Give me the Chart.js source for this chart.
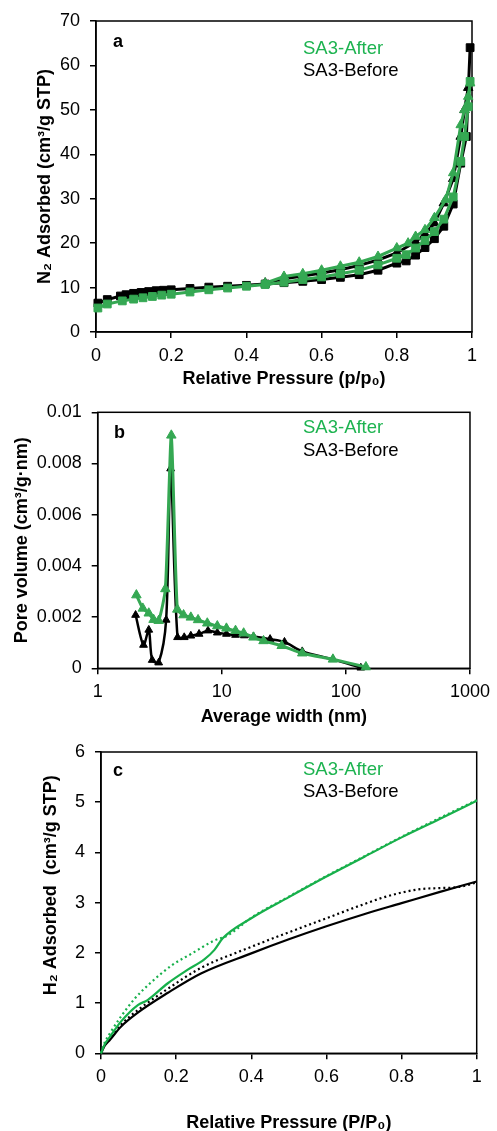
<!DOCTYPE html>
<html>
<head>
<meta charset="utf-8">
<script src="https://cdn.jsdelivr.net/npm/chart.js@4.4.1/dist/chart.umd.min.js"></script>
<style>
  html, body { margin: 0; padding: 0; background: #fff; overflow: hidden; }
  canvas { position: absolute; left: 0; }
  #grafA { top: 0; }
  #grafB { top: 390px; }
  #grafC { top: 728px; }
</style>
</head>
<body>
<canvas id="grafA" width="497" height="390"></canvas>
<canvas id="grafB" width="497" height="338"></canvas>
<canvas id="grafC" width="497" height="406"></canvas>
<script>
// =======================================================================
// DADOS
// =======================================================================
const nomesSeries = ["SA3-After", "SA3-Before"];

// (a) isoterma N2
const pAfterAds = [0.005, 0.03, 0.07, 0.1, 0.125, 0.15, 0.175, 0.2, 0.25, 0.3, 0.35, 0.4, 0.45, 0.5, 0.55, 0.6, 0.65, 0.7, 0.75, 0.8, 0.825, 0.85, 0.875, 0.9, 0.925, 0.95, 0.97, 0.98, 0.99, 0.995];
const n2AfterAds = [5.4, 6.3, 7.0, 7.4, 7.7, 8.0, 8.3, 8.5, 9.0, 9.5, 9.9, 10.3, 10.7, 11.2, 11.8, 12.4, 13.1, 13.9, 15.1, 16.6, 17.4, 18.9, 20.6, 22.6, 25.4, 30.4, 38.4, 44.0, 50.7, 56.4];
const pAfterDes = [0.995, 0.99, 0.98, 0.97, 0.95, 0.93, 0.9, 0.875, 0.85, 0.83, 0.8, 0.75, 0.7, 0.65, 0.6, 0.55, 0.5, 0.45];
const n2AfterDes = [56, 53, 50, 46.6, 35.8, 29.8, 25.7, 23, 21.5, 20, 18.9, 17, 15.7, 14.8, 13.9, 13.1, 12.5, 11.0];
const pBeforeAds = [0.005, 0.03, 0.065, 0.08, 0.1, 0.12, 0.14, 0.16, 0.18, 0.2, 0.25, 0.3, 0.35, 0.4, 0.45, 0.5, 0.55, 0.6, 0.65, 0.7, 0.75, 0.8, 0.825, 0.85, 0.875, 0.9, 0.925, 0.95, 0.97, 0.985, 0.995];
const n2BeforeAds = [6.5, 7.3, 8.1, 8.4, 8.7, 8.9, 9.1, 9.3, 9.4, 9.5, 9.8, 10.1, 10.3, 10.5, 10.8, 11.1, 11.4, 11.8, 12.3, 12.9, 13.9, 15.5, 16.0, 17.3, 19.0, 21.0, 23.8, 28.8, 38.0, 44.0, 64.0];
const pBeforeDes = [0.99, 0.98, 0.97, 0.95, 0.925, 0.9, 0.875, 0.85, 0.8, 0.75, 0.7, 0.65, 0.6, 0.55, 0.5, 0.45];
const n2BeforeDes = [55, 50, 44, 34.5, 29, 24.5, 22, 20.3, 17.8, 16.2, 15.0, 14.0, 13.3, 12.6, 12.0, 11.0];

// (b) distribuição de poros
const larguraAfter = [2.05, 2.31, 2.58, 2.82, 3.1, 3.51, 3.92, 4.38, 4.92, 5.63, 6.44, 7.64, 9.2, 10.9, 12.9, 15.0, 18.0, 21.7, 30.4, 44.5, 78.6, 145];
const volumeAfter = [0.00286, 0.00234, 0.00215, 0.0019, 0.00186, 0.0031, 0.0091, 0.0023, 0.00208, 0.00199, 0.00189, 0.00176, 0.00165, 0.00156, 0.00147, 0.00137, 0.00121, 0.00107, 0.00088, 0.00059, 0.00035, 0.00005];
const larguraBefore = [2.02, 2.34, 2.58, 2.75, 3.1, 3.56, 3.87, 4.4, 4.98, 5.63, 6.56, 7.74, 9.2, 10.9, 12.9, 15.2, 18, 24.5, 32, 44.5, 78.6, 132];
const volumeBefore = [0.00208, 0.00091, 0.0015, 0.00032, 0.00022, 0.00189, 0.0078, 0.00121, 0.00121, 0.00127, 0.00134, 0.00147, 0.00139, 0.00134, 0.0013, 0.00128, 0.00124, 0.00114, 0.00103, 0.00066, 0.00035, 0.00002];
const ticksLargura = [1, 10, 100, 1000];

// (c) isoterma H2
const pH2AfterAds = [0, 0.01, 0.024, 0.053, 0.098, 0.124, 0.177, 0.23, 0.275, 0.302, 0.324, 0.4, 0.5, 0.6, 0.7, 0.8, 0.9, 1.0];
const h2AfterAds = [0, 0.18, 0.33, 0.63, 0.96, 1.06, 1.39, 1.66, 1.87, 2.06, 2.29, 2.69, 3.11, 3.52, 3.91, 4.3, 4.66, 5.03];
const pH2AfterDes = [0, 0.01, 0.024, 0.053, 0.09, 0.13, 0.19, 0.24, 0.3, 0.34, 0.4, 0.5, 0.6, 0.7, 0.8, 0.9, 1.0];
const h2AfterDes = [0, 0.22, 0.4, 0.73, 1.09, 1.39, 1.76, 1.98, 2.24, 2.36, 2.7, 3.12, 3.53, 3.92, 4.31, 4.68, 5.04];
const pH2BeforeAds = [0, 0.01, 0.024, 0.053, 0.098, 0.177, 0.266, 0.4, 0.5, 0.6, 0.7, 0.8, 0.9, 1.0];
const h2BeforeAds = [0, 0.15, 0.27, 0.53, 0.81, 1.2, 1.59, 1.99, 2.27, 2.53, 2.77, 2.99, 3.21, 3.42];
const pH2BeforeDes = [0, 0.01, 0.024, 0.053, 0.098, 0.177, 0.266, 0.4, 0.5, 0.6, 0.7, 0.75, 0.8, 0.85, 0.9, 0.95, 1.0];
const h2BeforeDes = [0, 0.17, 0.3, 0.57, 0.86, 1.28, 1.7, 2.12, 2.41, 2.69, 2.97, 3.1, 3.2, 3.27, 3.29, 3.31, 3.4];

// =======================================================================
// ESTILO
// =======================================================================
const FONTE = "'Liberation Sans', Arial, sans-serif";
const VERDE = "#35a853";
const VERDE_TEXTO = "#1db350";
const PRETO = "#000";

Chart.defaults.font.family = FONTE;
Chart.defaults.color = "#000";

const pares = (xs, ys) => xs.map((x, i) => ({ x, y: ys[i] }));
const rotulo = (v) => String(+Number(v).toFixed(4));

// moldura + letra do painel + legenda em texto
const painel = {
  id: "painel",
  beforeDatasetsDraw(chart) {
    const { ctx, chartArea: a } = chart;
    ctx.save();
    ctx.strokeStyle = "#000";
    ctx.lineWidth = 1.5;
    ctx.strokeRect(a.left, a.top, a.right - a.left, a.bottom - a.top);
    ctx.restore();
  },
  afterDraw(chart, args, o) {
    const ctx = chart.ctx;
    ctx.save();
    ctx.textBaseline = "middle";
    ctx.textAlign = "left";
    ctx.font = "bold 18px " + FONTE;
    ctx.fillStyle = "#000";
    ctx.fillText(o.letra, o.letraX, o.letraY);
    ctx.font = "18.5px " + FONTE;
    ctx.fillStyle = VERDE_TEXTO;
    ctx.fillText(nomesSeries[0], o.legX, o.legY[0]);
    ctx.fillStyle = PRETO;
    ctx.fillText(nomesSeries[1], o.legX, o.legY[1]);
    ctx.restore();
  },
};

function eixo(o) {
  const e = {
    type: o.type || "linear",
    min: o.min,
    max: o.max,
    border: { color: "#000", width: 1.5 },
    grid: { drawOnChartArea: false, drawTicks: true, tickLength: 6, color: "#000", lineWidth: 1.5 },
    ticks: { font: { size: 18 }, color: "#000", padding: o.tickPad, callback: o.callback || rotulo },
    title: {
      display: true,
      text: o.titulo,
      font: { size: 18, weight: "bold" },
      color: "#000",
      padding: o.tituloPad,
    },
    afterFit: o.afterFit,
  };
  if (o.passo) e.ticks.stepSize = o.passo;
  if (o.afterBuildTicks) e.afterBuildTicks = o.afterBuildTicks;
  return e;
}

function serie(dados, cor, estilo, extra) {
  return Object.assign(
    {
      data: dados,
      borderColor: cor,
      backgroundColor: cor,
      pointBackgroundColor: cor,
      pointBorderColor: cor,
      borderWidth: 3,
      pointStyle: estilo,
      pointRadius: estilo ? 5.5 : 0,
      pointBorderWidth: 1,
      tension: 0,
      clip: false,
      fill: false,
    },
    extra || {}
  );
}

const base = {
  responsive: false,
  animation: false,
  events: [],
  plugins: { legend: { display: false }, tooltip: { enabled: false } },
};

// =======================================================================
// (a)
// =======================================================================
new Chart(document.getElementById("grafA"), {
  type: "line",
  data: {
    datasets: [
      serie(pares(pAfterDes, n2AfterDes), VERDE, "triangle"),
      serie(pares(pAfterAds, n2AfterAds), VERDE, "rect"),
      serie(pares(pBeforeDes, n2BeforeDes), PRETO, "triangle"),
      serie(pares(pBeforeAds, n2BeforeAds), PRETO, "rect"),
    ],
  },
  options: Object.assign({}, base, {
    layout: { padding: { top: 21, right: 25, left: 0, bottom: 0 } },
    plugins: Object.assign({}, base.plugins, {
      painel: { letra: "a", letraX: 113, letraY: 42, legX: 303, legY: [49, 71] },
    }),
    scales: {
      x: eixo({
        min: 0, max: 1, passo: 0.2, tickPad: 7,
        titulo: "Relative Pressure (p/p\u2080)",
        tituloPad: { top: 0, bottom: 0 },
        afterFit: (s) => { s.height = 58; },
      }),
      y: eixo({
        min: 0, max: 70, passo: 10, tickPad: 10,
        titulo: "N\u2082 Adsorbed (cm\u00b3/g STP)",
        tituloPad: { top: 34, bottom: 0 },
        afterFit: (s) => { s.width = 96; },
      }),
    },
  }),
  plugins: [painel],
});

// =======================================================================
// (b)
// =======================================================================
new Chart(document.getElementById("grafB"), {
  type: "line",
  data: {
    datasets: [
      serie(pares(larguraAfter, volumeAfter), VERDE, "triangle", { tension: 0.2 }),
      serie(pares(larguraBefore, volumeBefore), PRETO, "triangle", { tension: 0.3, borderWidth: 2.5, pointRadius: 4.5 }),
    ],
  },
  options: Object.assign({}, base, {
    layout: { padding: { top: 22.3, right: 23.7, left: 0, bottom: 0 } },
    plugins: Object.assign({}, base.plugins, {
      painel: { letra: "b", letraX: 114, letraY: 43, legX: 303, legY: [38.3, 61] },
    }),
    scales: {
      x: eixo({
        type: "logarithmic", min: 1, max: 1000, tickPad: 7,
        titulo: "Average width (nm)",
        tituloPad: { top: 0, bottom: 0 },
        afterBuildTicks: (s) => { s.ticks = ticksLargura.map((v) => ({ value: v })); },
        afterFit: (s) => { s.height = 59.7; },
      }),
      y: eixo({
        min: 0, max: 0.01, passo: 0.002, tickPad: 10,
        titulo: "Pore volume (cm\u00b3/g\u00b7nm)",
        tituloPad: { top: 11.2, bottom: 0 },
        afterFit: (s) => { s.width = 97.7; },
      }),
    },
  }),
  plugins: [painel],
});

// =======================================================================
// (c)
// =======================================================================
const suave = { tension: 0.4, cubicInterpolationMode: "monotone", borderWidth: 2.2 };
new Chart(document.getElementById("grafC"), {
  type: "line",
  data: {
    datasets: [
      serie(pares(pH2AfterAds, h2AfterAds), "#17b04b", null, suave),
      serie(pares(pH2AfterDes, h2AfterDes), "#17b04b", null, Object.assign({ borderDash: [2, 3] }, suave)),
      serie(pares(pH2BeforeAds, h2BeforeAds), PRETO, null, suave),
      serie(pares(pH2BeforeDes, h2BeforeDes), PRETO, null, Object.assign({ borderDash: [2, 3] }, suave)),
    ],
  },
  options: Object.assign({}, base, {
    layout: { padding: { top: 24, right: 20.3, left: 0, bottom: 0 } },
    plugins: Object.assign({}, base.plugins, {
      painel: { letra: "c", letraX: 113, letraY: 43, legX: 303, legY: [42, 64.3] },
    }),
    scales: {
      x: eixo({
        min: 0, max: 1, passo: 0.2, tickPad: 7,
        titulo: "Relative Pressure (P/P\u2080)",
        tituloPad: { top: 0, bottom: 0 },
        afterFit: (s) => { s.height = 80.7; },
      }),
      y: eixo({
        min: 0, max: 6, passo: 1, tickPad: 10,
        titulo: "       H\u2082 Adsorbed  (cm\u00b3/g STP)",
        tituloPad: { top: 40.7, bottom: 0 },
        afterFit: (s) => { s.width = 101; },
      }),
    },
  }),
  plugins: [painel],
});
</script>
</body>
</html>
